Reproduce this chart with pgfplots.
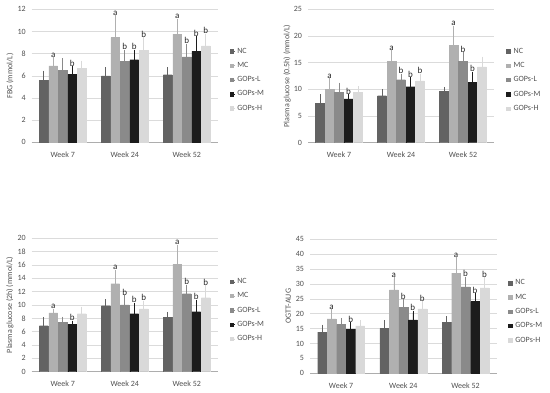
\documentclass[border=0pt]{standalone}
\usepackage{pgfplots}
\usepackage{pgfplotstable}
\pgfplotsset{compat=1.18}
\usepackage{fontspec}
\setmainfont{Carlito}
\definecolor{cNC}{HTML}{636363}
\definecolor{cMC}{HTML}{B0B0B0}
\definecolor{cL}{HTML}{8A8A8A}
\definecolor{cM}{HTML}{1C1C1C}
\definecolor{cH}{HTML}{D9D9D9}
\definecolor{txt}{HTML}{505050}

\pgfplotstableread{
x nc ncE mc mcE l lE m mE h hE
0 5.6 0.7 6.9 0.6 6.5 0.9 6.15 0.55 6.7 0.5
1 6.0 0.6 9.45 1.85 7.3 0.9 7.45 0.75 8.3 1.0
2 6.1 0.5 9.75 1.25 7.7 1.05 8.2 1.2 8.7 0.95
}\tFBG
\pgfplotstableread{
x nc ncE mc mcE l lE m mE h hE
0 7.4 1.3 10.0 1.7 9.5 1.4 8.2 0.5 9.5 0.7
1 8.8 0.9 15.3 1.7 11.8 0.8 10.5 1.4 11.6 1.0
2 9.6 0.5 18.3 3.3 15.2 1.4 11.3 1.7 14.2 1.6
}\tHalf
\pgfplotstableread{
x nc ncE mc mcE l lE m mE h hE
0 6.9 1.0 8.8 0.4 7.4 0.6 7.1 0.3 8.7 0.8
1 9.9 0.7 13.2 1.8 10.0 1.2 8.7 1.4 9.4 1.0
2 8.2 0.5 16.1 2.7 11.7 1.1 9.0 1.5 11.1 1.6
}\tTwo
\pgfplotstableread{
x nc ncE mc mcE l lE m mE h hE
0 13.8 1.9 18.3 2.6 16.4 1.6 14.8 1.8 15.9 1.3
1 15.1 2.1 28.0 3.7 22.1 2.2 17.9 2.5 21.6 2.0
2 17.2 1.4 33.6 4.7 29.0 2.8 24.1 2.1 28.7 2.9
}\tAUG

\pgfplotsset{
  panel/.style={
    scale only axis, width=186pt, height=133pt,
    ybar, ymin=0, xmin=-0.5, xmax=2.5,
    xtick={0,1,2}, xticklabels={Week 7,Week 24,Week 52},
    axis lines*=left,
    y axis line style={draw=none},
    x axis line style={draw=black!32, line width=0.7pt},
    tick style={draw=none},
    ymajorgrids, grid style={draw=black!14, line width=0.5pt},
    /pgf/number format/assume math mode=true,
    ticklabel style={font=\fontsize{8}{9}\selectfont, text=txt},
    yticklabel style={xshift=-2.5pt},
    xticklabel style={yshift=-1.5pt},
    ylabel style={font=\fontsize{8}{9}\selectfont, text=txt, anchor=center},
    bar width=8.8pt,
    legend style={anchor=west, draw=none, fill=none,
      font=\fontsize{8}{9}\selectfont, text=txt, row sep=3.6pt,
      inner sep=0pt},
    legend cell align=left,
    legend image code/.code={\path[#1] (0pt,-1.6pt) rectangle (3.4pt,1.8pt);
      \path (0pt,0pt) -- (5pt,0pt);},
  },
  ser/.style n args={2}{fill=#1, draw=#1, line width=0.3pt, bar shift=#2,
    error bars/.cd, y dir=plus, y explicit,
    error bar style={draw=#1, line width=0.7pt},
    error mark options={draw=#1, line width=0.7pt, mark size=1.8pt}},
  lab/.style={ybar, bar shift=#1, bar width=8.8pt, draw=none, fill=none, forget plot,
    point meta=explicit symbolic, nodes near coords,
    nodes near coords style={font=\fontsize{9}{10}\selectfont, text=black!85, inner sep=1.4pt}},
}

\newcommand\bars[1]{%
  \addplot[ser={cNC}{-19pt}] table[x=x, y=nc, y error=ncE] {#1};
  \addplot[ser={cMC}{-9.5pt}] table[x=x, y=mc, y error=mcE] {#1};
  \addplot[ser={cL}{0pt}] table[x=x, y=l, y error=lE] {#1};
  \addplot[ser={cM}{9.5pt}] table[x=x, y=m, y error=mE] {#1};
  \addplot[ser={cH}{19pt}] table[x=x, y=h, y error=hE] {#1};
  \legend{NC,MC,GOPs-L,GOPs-M,GOPs-H}
}

\begin{document}
\begin{tikzpicture}
\path[use as bounding box] (0,0) rectangle (550pt,393pt);

% Panel 1
\begin{axis}[panel, at={(31.7pt,250.7pt)}, anchor=south west,
  ymax=12, ytick={0,2,...,12},
  ylabel={FBG (mmol/L)}, ylabel style={at={(axis description cs:-0.117,0.5)}},
  legend style={at={(1.065,0.47)}}]
\bars{\tFBG}
\addplot[lab=-9.5pt] coordinates {(0,7.5)[a] (1,11.3)[a] (2,11.0)[a]};
\addplot[lab=0pt] coordinates {(1,8.2)[b] (2,8.75)[b]};
\addplot[lab=9.5pt] coordinates {(0,6.7)[b] (1,8.2)[b] (2,9.4)[b]};
\addplot[lab=19pt] coordinates {(1,9.3)[b] (2,9.65)[b]};
\end{axis}

% Panel 2
\begin{axis}[panel, at={(308pt,250.3pt)}, anchor=south west, height=133.4pt,
  ymax=25, ytick={0,5,...,25},
  ylabel={Plasma glucose (0.5h) (mmol/L)}, ylabel style={at={(axis description cs:-0.112,0.5)}},
  legend style={at={(1.065,0.47)}}]
\bars{\tHalf}
\addplot[lab=-9.5pt] coordinates {(0,11.7)[a] (1,17.0)[a] (2,21.6)[a]};
\addplot[lab=0pt] coordinates {(1,12.6)[b] (2,16.6)[b]};
\addplot[lab=9.5pt] coordinates {(0,8.7)[b] (1,11.9)[b] (2,13.0)[b]};
\addplot[lab=19pt] coordinates {(1,12.6)[b]};
\end{axis}

% Panel 3
\begin{axis}[panel, at={(31.7pt,21.3pt)}, anchor=south west, height=133.4pt,
  ymax=20, ytick={0,2,...,20},
  ylabel={Plasma glucose (2h) (mmol/L)}, ylabel style={at={(axis description cs:-0.117,0.5)}},
  legend style={at={(1.065,0.46)}}]
\bars{\tTwo}
\addplot[lab=-9.5pt] coordinates {(0,9.2)[a] (1,15.0)[a] (2,18.8)[a]};
\addplot[lab=0pt] coordinates {(1,11.2)[b] (2,12.8)[b]};
\addplot[lab=9.5pt] coordinates {(0,7.4)[b] (1,10.1)[b] (2,10.5)[b]};
\addplot[lab=19pt] coordinates {(1,10.4)[b] (2,12.7)[b]};
\end{axis}

% Panel 4
\begin{axis}[panel, at={(310pt,19.7pt)}, anchor=south west, width=186.7pt, height=134pt,
  ymax=45, ytick={0,5,...,45},
  ylabel={OGTT-AUG}, ylabel style={at={(axis description cs:-0.116,0.5)}},
  legend style={at={(1.06,0.46)}}]
\bars{\tAUG}
\addplot[lab=-9.5pt] coordinates {(0,20.9)[a] (1,31.7)[a] (2,38.3)[a]};
\addplot[lab=0pt] coordinates {(1,24.3)[b] (2,31.8)[b]};
\addplot[lab=9.5pt] coordinates {(0,16.6)[b] (1,20.4)[b] (2,26.2)[b]};
\addplot[lab=19pt] coordinates {(1,23.6)[b] (2,31.6)[b]};
\end{axis}
\end{tikzpicture}
\end{document}
